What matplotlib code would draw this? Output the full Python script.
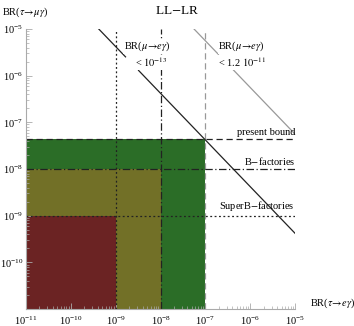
import numpy as np
import matplotlib
matplotlib.use("Agg")
import matplotlib.pyplot as plt
from matplotlib.patches import Rectangle

plt.rcParams['font.family'] = ['Liberation Serif', 'DejaVu Serif']
plt.rcParams['mathtext.fontset'] = 'stix'

# sensitivity regions: (x upper, y upper, colour)
region_x = [1e-7, 1e-8, 1e-9]
region_y = [4.4e-8, 1e-8, 1e-9]
region_colors = ['#2b6d27', '#727027', '#6b2323']
region_names = ['present bound', 'B$-$factories', 'SuperB$-$factories']
region_styles = [(0, (5, 3)), (0, (6, 2, 1, 2)), (0, (1.5, 2))]

# correlation lines BR(tau->mu g) * BR(tau->e g) = const
line_const = [4.2e-15, 5.6e-13]
line_colors = ['#222222', '#999999']
line_x_start = [10**-9.38, 10**-7.29]
line_labels = [('BR($\\mu\\!\\rightarrow\\!e\\gamma$)', '< $10^{-13}$'),
               ('BR($\\mu\\!\\rightarrow\\!e\\gamma$)', '< 1.2 $10^{-11}$')]
label_x = [10**-8.29, 10**-6.71]
label_ha = ['center', 'left']
gap_x = [(10**-8.78, 10**-8.49), (10**-6.71, 10**-6.4)]

fig = plt.figure(figsize=(3.54, 3.26), dpi=100)
ax = fig.add_axes([0.0734, 0.052, 0.76, 0.859])
ax.set_xscale('log')
ax.set_yscale('log')
ax.set_xlim(1e-11, 1e-5)
ax.set_ylim(1e-11, 1e-5)

# filled boxes, largest first
for xx, yy, c in zip(region_x, region_y, region_colors):
    ax.add_patch(Rectangle((1e-11, 1e-11), xx - 1e-11, yy - 1e-11, facecolor=c,
                           edgecolor='none', zorder=1))

# boundary lines
for i, (xx, yy, name, ls) in enumerate(zip(region_x, region_y, region_names, region_styles)):
    vcol = '#999999' if i == 0 else '#222222'
    ax.plot([xx, xx], [1e-11, 1e-5], color=vcol, lw=0.9, linestyle=ls, zorder=3)
    ax.plot([1e-11, 1e-5], [yy, yy], color='#222222', lw=0.9, linestyle=ls, zorder=3)
    ax.text(1e-5, yy * 1.12, name, ha='right', va='bottom', fontsize=7.5, zorder=4)

# diagonal lines with a gap for the label
for k, c, xs, (g0, g1) in zip(line_const, line_colors, line_x_start, gap_x):
    ax.plot([xs, g0], [k / xs, k / g0], color=c, lw=0.9, zorder=3)
    ax.plot([g1, 1e-5], [k / g1, k / 1e-5], color=c, lw=0.9, zorder=3)

for (l1, l2), lx, ha in zip(line_labels, label_x, label_ha):
    box = dict(facecolor='white', edgecolor='none', pad=0.5)
    ax.text(lx, 10**-5.37, l1, ha=ha, va='center', fontsize=7.5, zorder=4, bbox=box)
    ax.text(lx * (1.2 if ha == 'center' else 1.0), 10**-5.72, l2, ha=ha, va='center',
            fontsize=7.5, zorder=4, bbox=box)

for s in ['top', 'right']:
    ax.spines[s].set_visible(False)
for s in ['left', 'bottom']:
    ax.spines[s].set_color('#aaaaaa')
    ax.spines[s].set_linewidth(0.8)
    ax.spines[s].set_zorder(5)

ax.set_xticks([10.0**e for e in range(-11, -4)])
ax.set_yticks([10.0**e for e in range(-10, -4)])
ax.tick_params(which='both', direction='in', colors='#aaaaaa', labelcolor='black',
               labelsize=7.5)
ax.tick_params(which='major', length=4, width=0.6)
ax.tick_params(which='minor', length=2, width=0.5)
ax.tick_params(axis='x', pad=4)
ax.tick_params(axis='y', pad=2)

fig.text(0.5, 0.965, 'LL$-$LR', ha='center', va='center', fontsize=9.5)
fig.text(0.005, 0.962, 'BR($\\tau\\!\\rightarrow\\!\\mu\\gamma$)', ha='left', va='center', fontsize=7.5)
fig.text(0.875, 0.07, 'BR($\\tau\\!\\rightarrow\\!e\\gamma$)', ha='left', va='center', fontsize=7.5)

fig.savefig('out.png', dpi=100)
